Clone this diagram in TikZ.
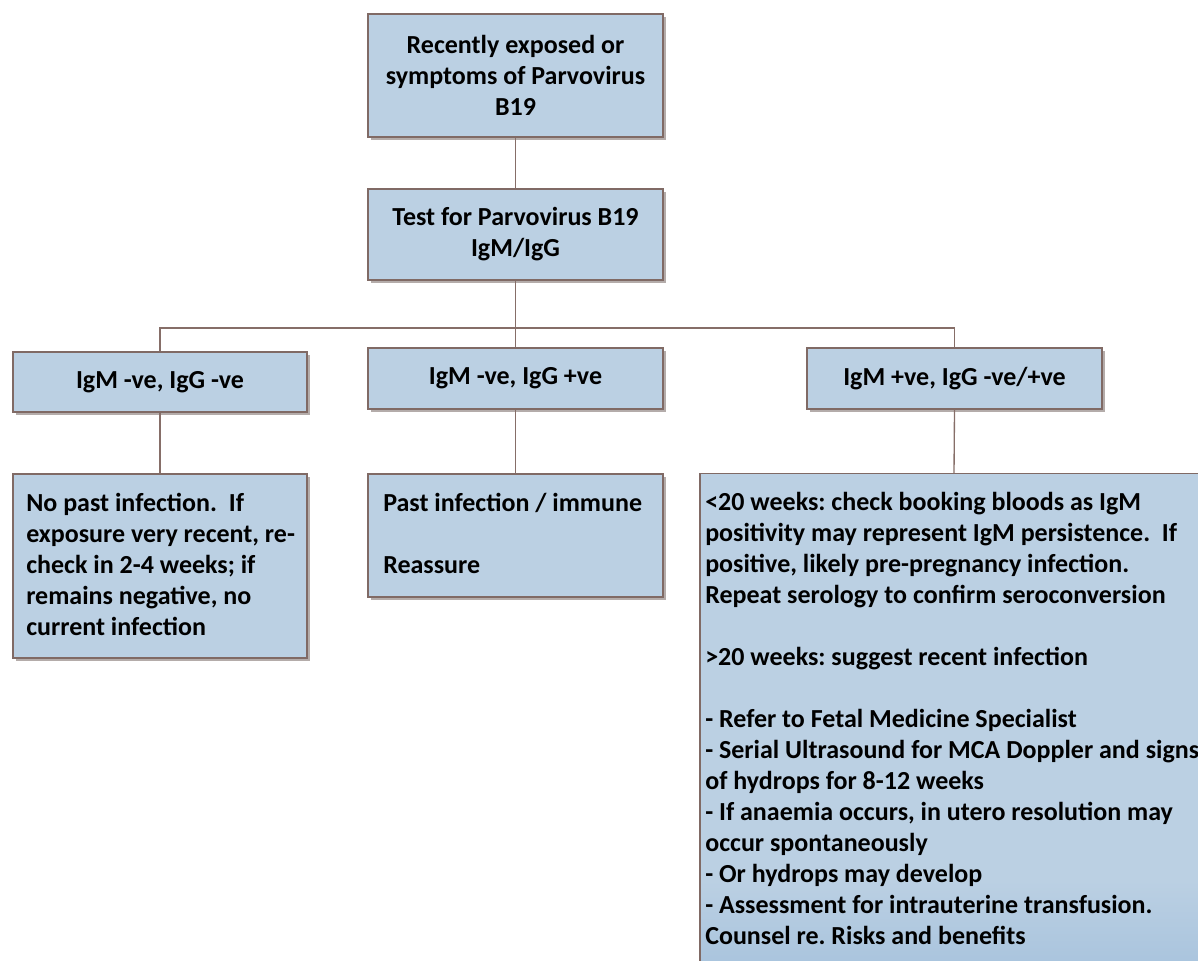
\documentclass[tikz,border=0pt]{standalone}
\usepackage{fontspec}
\setmainfont{Carlito}
\usetikzlibrary{shadows}
\definecolor{boxfill}{RGB}{187,208,227}
\definecolor{boxline}{RGB}{128,106,101}
\definecolor{linkcol}{RGB}{134,110,104}
\definecolor{shadowcol}{RGB}{180,172,170}
\definecolor{boxdeep}{RGB}{168,195,221}
\frenchspacing
\begin{document}
\begin{tikzpicture}[x=0.75pt,y=-0.75pt,
  box/.style={rectangle, draw=boxline, fill=boxfill, line width=0.8pt, inner sep=0pt,
    drop shadow={shadow xshift=2.4pt, shadow yshift=-2.4pt, fill=shadowcol, opacity=1}},
  plainbox/.style={rectangle, draw=boxline, fill=boxfill, line width=0.8pt, inner sep=0pt},
  txt/.style={font=\fontsize{19.5}{23.25}\selectfont\bfseries, align=left, inner sep=0pt},
  ctxt/.style={font=\fontsize{19.5}{23.25}\selectfont\bfseries, align=center},
  link/.style={draw=linkcol, line width=1pt}]
\useasboundingbox (0,0) rectangle (1198,960);
\clip (0,0) rectangle (1198,960);

% level 0 and 1
\node[box, ctxt, minimum width=221.25pt, minimum height=92.25pt] (top) at (515.5,75.5)
  {Recently exposed or\\symptoms of Parvovirus\\B19};
\node[box, ctxt, minimum width=221.25pt, minimum height=68.25pt] (test) at (515.5,234.5)
  {Test for Parvovirus B19\\IgM/IgG};

% level 2
\node[box, ctxt, minimum width=220.5pt, minimum height=45pt] (negneg) at (160,382)
  {IgM -ve, IgG -ve};
\node[box, ctxt, minimum width=221.25pt, minimum height=45.75pt] (negpos) at (515.5,378.5)
  {IgM -ve, IgG +ve};
\node[box, ctxt, minimum width=221.25pt, minimum height=45.75pt] (posany) at (954.5,378.5)
  {IgM +ve, IgG -ve/+ve};

% level 3 boxes
\node[box, minimum width=220.5pt, minimum height=138pt] (resA) at (160,566) {};
\node[box, minimum width=221.25pt, minimum height=92.25pt] (resB) at (515.5,535.5) {};
\node[plainbox, minimum width=381pt, minimum height=377pt] (resC) at (954,725) {};
\shade[top color=boxfill, bottom color=boxdeep] (701,880) rectangle (1204,972);

% level 3 texts
\node[txt, anchor=north west] (tA) at (26,493)
  {No past infection.\ \ If\\exposure very recent, re-\\check in 2-4 weeks; if\\remains negative, no\\current infection};
\node[txt, anchor=north west] (tB) at (383,493)
  {Past infection / immune\\[23.25pt]Reassure};
\node[txt, anchor=north west] (tC) at (705,492)
  {<20 weeks: check booking bloods as IgM\\positivity may represent IgM persistence.\ \ If\\positive, likely pre-pregnancy infection.\\Repeat serology to confirm seroconversion\\[23.25pt]%
   >20 weeks: suggest recent infection\\[23.25pt]%
   - Refer to Fetal Medicine Specialist\\- Serial Ultrasound for MCA Doppler and signs\\of hydrops for 8-12 weeks\\- If anaemia occurs, in utero resolution may\\occur spontaneously\\- Or hydrops may develop\\- Assessment for intrauterine transfusion.\\Counsel re. Risks and benefits};

% connectors
\coordinate (j) at (515.5,328);
\draw[link] (top.south) -- (test.north);
\draw[link] (test.south) -- (j);
\draw[link] (negneg.north) -- (negneg.north |- j) -- (posany.north |- j) -- (posany.north);
\draw[link] (j) -- (negpos.north);
\draw[link] (negneg.south) -- (resA.north);
\draw[link] (negpos.south) -- (resB.north);
\draw[link] (posany.south) -- (resC.north);
\end{tikzpicture}
\end{document}
